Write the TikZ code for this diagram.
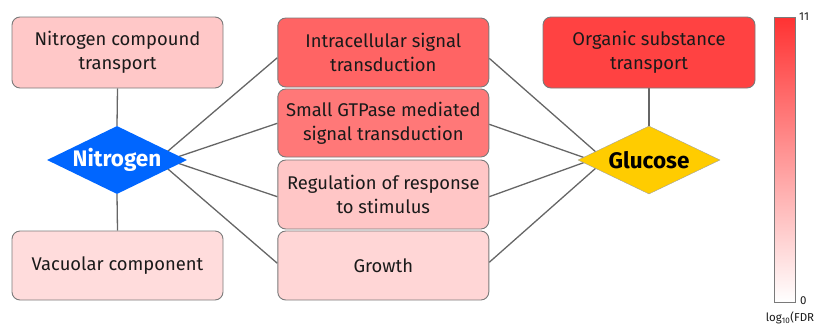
\documentclass[tikz,border=0pt]{standalone}
\usepackage{fontspec}
\setmainfont{Fira Sans}
\usetikzlibrary{shapes.geometric,calc,backgrounds}

\definecolor{edgegray}{HTML}{666666}
\definecolor{framegray}{HTML}{7A7A7A}
\definecolor{txt}{HTML}{1A1A1A}
\definecolor{cNct}{HTML}{FFC8C8}
\definecolor{cVac}{HTML}{FFDCDC}
\definecolor{cIsd}{HTML}{FF6464}
\definecolor{cGtp}{HTML}{FF7878}
\definecolor{cReg}{HTML}{FFC6C6}
\definecolor{cGro}{HTML}{FFD6D6}
\definecolor{cOst}{HTML}{FF4242}
\definecolor{cTop}{HTML}{FF3232}
\definecolor{nitroblue}{HTML}{0066FF}
\definecolor{glucyellow}{HTML}{FFCC00}

\tikzset{
  term/.style={draw=framegray, line width=0.9pt, rounded corners=8pt,
    minimum width=211pt, minimum height=69pt, inner sep=0pt,
    align=center, text=txt, font=\fontsize{18.4}{24}\selectfont},
  hub/.style={diamond, aspect=2.06, inner sep=0pt, font=\fontsize{22.5}{26}\selectfont\bfseries},
  link/.style={draw=edgegray, line width=1.3pt},
  scalelbl/.style={text=txt, font=\fontsize{11.5}{13}\selectfont, inner sep=0pt}
}

\begin{document}
\begin{tikzpicture}[x=1pt,y=-1pt]
\useasboundingbox (0,0) rectangle (817,325);

% GO term boxes
\node[term, fill=cNct, minimum height=71pt] (nct) at (117.5,52.5) {Nitrogen compound\\transport};
\node[term, fill=cVac] (vac) at (117.5,265.5) {Vacuolar component};
\node[term, fill=cIsd] (isd) at (383.3,52.5) {Intracellular signal\\transduction};
\node[term, fill=cGtp, minimum height=68pt] (gtp) at (383.3,123) {Small GTPase mediated\\signal transduction};
\node[term, fill=cReg] (reg) at (383.3,194.5) {Regulation of response\\to stimulus};
\node[term, fill=cGro] (gro) at (383.3,265.5) {Growth};
\node[term, fill=cOst, minimum width=212pt, minimum height=71pt] (ost) at (649,52.5) {Organic substance\\transport};

% nutrient hubs
\node[hub, fill=nitroblue, text=white, minimum width=140pt, minimum height=68pt] (nitro) at (117,160) {Nitrogen};
\node[hub, fill=glucyellow, draw=framegray!70, line width=0.4pt, text=black, minimum width=142pt, minimum height=68pt] (gluc) at (649,160) {Glucose};

% attachment points of the connectors
\coordinate (nOut) at ($(nitro.center)+(40.5,0)$);
\coordinate (nIn)  at ($(nitro.center)+(51.5,0)$);
\coordinate (gOut) at ($(gluc.center)+(-44,0)$);
\coordinate (gIn)  at ($(gluc.center)+(-58,0)$);

\begin{pgfonlayer}{background}
  \draw[link] (nct.south) -- (nitro.north);
  \draw[link] (nitro.south) -- (vac.north);
  \draw[link] (ost.south) -- (gluc.north);

  \draw[link] (nOut) -- ($(isd.west)+(0,5.2)$);
  \draw[link] (nIn)  -- ($(gtp.west)+(0,0.3)$);
  \draw[link] (nIn)  -- ($(reg.west)+(0,2.2)$);
  \draw[link] (nOut) -- ($(gro.west)+(0,-2.2)$);

  \draw[link] (gOut) -- ($(isd.east)+(0,5.8)$);
  \draw[link] (gIn)  -- ($(gtp.east)+(0,1.3)$);
  \draw[link] (gIn)  -- ($(reg.east)+(0,2.2)$);
  \draw[link] (gOut) -- ($(gro.east)+(0,-3.2)$);
\end{pgfonlayer}

% colour scale
\shade[top color=cTop, bottom color=white] (774,17) rectangle (795,302);
\draw[framegray, line width=0.9pt] (774,17) rectangle (795,302);
\node[scalelbl, anchor=west] (vmax) at (799,16.5) {11};
\node[scalelbl, anchor=west] (vmin) at (800,301) {0};
\node[scalelbl] (unit) at (790,318) {log\textsubscript{10}(FDR};
\end{tikzpicture}
\end{document}
